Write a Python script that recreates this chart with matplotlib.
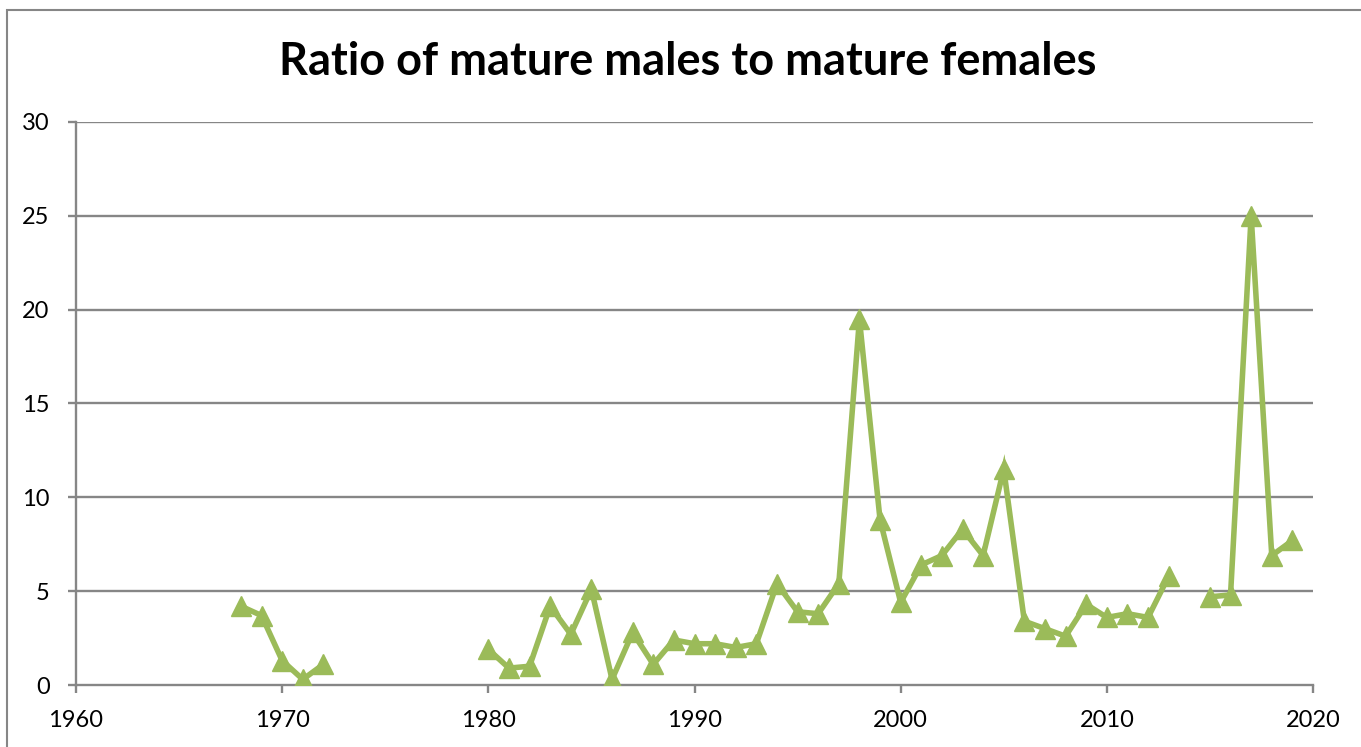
import matplotlib
matplotlib.use("Agg")
import matplotlib.pyplot as plt
import numpy as np
from matplotlib.patches import Rectangle

# yearly ratio values, gaps are years with no data
years = list(range(1968, 2020))
ratio = {
    1968: 4.2, 1969: 3.7, 1970: 1.3, 1971: 0.3, 1972: 1.1,
    1980: 1.9, 1981: 0.9, 1982: 1.0, 1983: 4.2, 1984: 2.7,
    1985: 5.1, 1986: 0.3, 1987: 2.8, 1988: 1.1, 1989: 2.4,
    1990: 2.2, 1991: 2.2, 1992: 2.0, 1993: 2.2, 1994: 5.4,
    1995: 3.9, 1996: 3.8, 1997: 5.4, 1998: 19.5, 1999: 8.8,
    2000: 4.4, 2001: 6.4, 2002: 6.9, 2003: 8.3, 2004: 6.9,
    2005: 11.5, 2006: 3.4, 2007: 3.0, 2008: 2.6, 2009: 4.3,
    2010: 3.6, 2011: 3.8, 2012: 3.6, 2013: 5.8,
    2015: 4.7, 2016: 4.8, 2017: 25.0, 2018: 6.9, 2019: 7.7,
}
values = [ratio.get(y, np.nan) for y in years]

x_ticks = list(range(1960, 2021, 10))
y_ticks = list(range(0, 31, 5))

GREEN = "#9BBB59"
GRAY = "#868686"

plt.rcParams["font.family"] = ["Lato", "DejaVu Sans"]

fig = plt.figure(figsize=(13.61, 7.47), dpi=100)
W, H = 1361, 747
ax = fig.add_axes([76 / W, 1 - 685 / H, (1313 - 76) / W, (685 - 122) / H])

ax.plot(years, values, color=GREEN, linewidth=4, marker="^",
        markersize=15, markerfacecolor=GREEN, markeredgecolor=GREEN,
        solid_joinstyle="miter", zorder=3)

ax.set_xlim(1960, 2020)
ax.set_ylim(0, 30)
ax.set_xticks(x_ticks)
ax.set_yticks(y_ticks)
ax.yaxis.grid(True, color=GRAY, linewidth=1.7)
ax.set_axisbelow(True)

for side in ("top", "right"):
    ax.spines[side].set_visible(False)
for side in ("left", "bottom"):
    ax.spines[side].set_color(GRAY)
    ax.spines[side].set_linewidth(1.7)

ax.tick_params(axis="both", direction="out", length=6, width=1.7,
               color=GRAY, labelsize=17, labelcolor="black")
ax.tick_params(axis="y", pad=13)
ax.tick_params(axis="x", pad=12)
ax.yaxis.get_gridlines()[0].set_visible(False)

fig.text(688 / W, 1 - 62 / H, "Ratio of mature males to mature females",
         ha="center", va="center", fontsize=32.5, fontweight="bold")

# outer chart frame
fig.patches.append(Rectangle((7 / W, -0.1), 1.2, 1 - 10 / H + 0.1,
                             transform=fig.transFigure, fill=False,
                             edgecolor=GRAY, linewidth=1.5))

fig.savefig("out.png", dpi=100)
